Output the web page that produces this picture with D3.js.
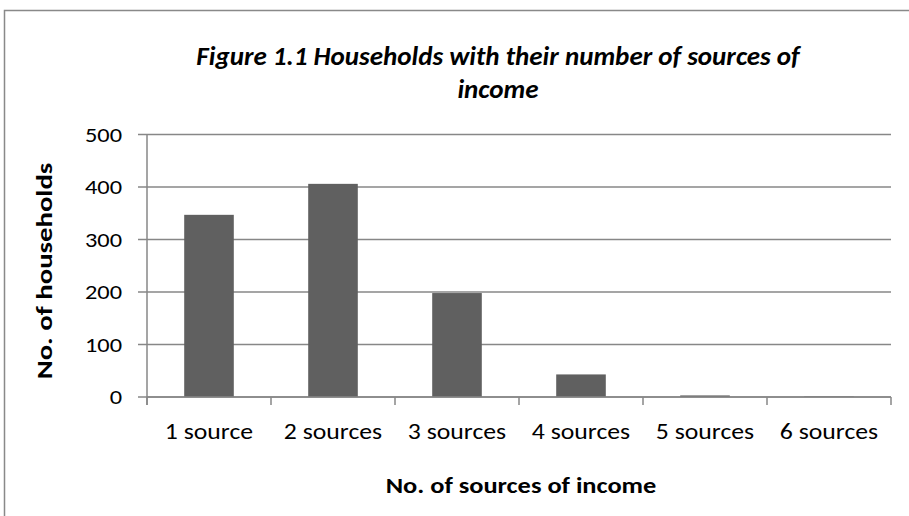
<!DOCTYPE html>
<html>
<head>
<meta charset="utf-8">
<script src="https://cdn.jsdelivr.net/npm/d3@7"></script>
<style>
  html, body { margin: 0; padding: 0; background: #fff; }
  svg { display: block; }
  text { font-family: Carlito, Calibri, Lato, "Open Sans", sans-serif; fill: #000; }
</style>
</head>
<body>
<svg id="chart" width="909" height="516"></svg>
<script>
// Households by number of income sources
const categories = ["1 source", "2 sources", "3 sources", "4 sources", "5 sources", "6 sources"];
const households = [347, 406, 198, 43, 3, 1];
const yTicks = [0, 100, 200, 300, 400, 500];
const titleLines = ["Figure 1.1 Households with their number of sources of", "income"];
const xTitle = "No. of sources of income";
const yTitle = "No. of households";

const svg = d3.select("#chart");
const W = 909, H = 516;
const plot = { left: 147, right: 891, top: 134.5, bottom: 397 };
const gridColor = "#878787";

// text helper: places a label and widens it horizontally by sx
function label(g, txt, xPos, yPos, opts) {
  const o = Object.assign({ size: 22, sx: 1, anchor: "middle", weight: "normal", style: "normal", rotate: 0 }, opts);
  return g.append("text")
    .attr("transform", `translate(${xPos},${yPos}) rotate(${o.rotate}) scale(${o.sx},1)`)
    .attr("text-anchor", o.anchor)
    .attr("font-size", o.size)
    .attr("font-weight", o.weight)
    .attr("font-style", o.style)
    .text(txt);
}

// outer chart frame (runs off the right and bottom edges)
svg.append("rect")
  .attr("x", 4.5).attr("y", 10.5)
  .attr("width", W + 20).attr("height", H + 20)
  .attr("fill", "#fff").attr("stroke", "#898989").attr("stroke-width", 1.5);

const xOuter = d3.scaleBand().domain(categories).range([plot.left, plot.right]);
const x = d3.scaleBand().domain(categories).range([plot.left, plot.right]).paddingInner(0.6).paddingOuter(0.3);
const y = d3.scaleLinear().domain([0, 500]).range([plot.bottom, plot.top]);

// horizontal gridlines with small ticks left of the axis
svg.append("g").selectAll("line").data(yTicks).join("line")
  .attr("x1", plot.left - 9).attr("x2", plot.right)
  .attr("y1", d => y(d)).attr("y2", d => y(d))
  .attr("stroke", gridColor).attr("stroke-width", 1.5);

// bars
svg.append("g").selectAll("rect").data(households).join("rect")
  .attr("x", (d, i) => x(categories[i]))
  .attr("width", x.bandwidth())
  .attr("y", d => y(d))
  .attr("height", d => y(0) - y(d))
  .attr("fill", "#606060");

// y axis line and labels
svg.append("line")
  .attr("x1", plot.left).attr("x2", plot.left)
  .attr("y1", plot.top).attr("y2", plot.bottom + 8)
  .attr("stroke", gridColor).attr("stroke-width", 1.5);
const gyl = svg.append("g");
yTicks.forEach(t => label(gyl, String(t), 122, y(t) + 7, { size: 20, sx: 1.22, anchor: "end" }));

// x axis: baseline redrawn on top of bars, ticks at category boundaries
const gx = svg.append("g");
gx.append("line").attr("x1", plot.left).attr("x2", plot.right)
  .attr("y1", plot.bottom).attr("y2", plot.bottom)
  .attr("stroke", gridColor).attr("stroke-width", 1.5);
const boundaries = categories.map(c => xOuter(c)).concat([plot.right]);
gx.selectAll("line.tk").data(boundaries).join("line").attr("class", "tk")
  .attr("x1", d => d).attr("x2", d => d)
  .attr("y1", plot.bottom).attr("y2", plot.bottom + 8)
  .attr("stroke", gridColor).attr("stroke-width", 1.5);
categories.forEach(c => label(gx, c, xOuter(c) + xOuter.bandwidth() / 2, 439, { size: 22, sx: 1.17 }));

// titles
const gt = svg.append("g");
titleLines.forEach((t, i) => label(gt, t, 498, 65 + i * 33, { size: 26, sx: 1.04, weight: "bold", style: "italic" }));
label(svg, xTitle, 521, 493, { size: 22, sx: 1.2, weight: "bold" });
label(svg, yTitle, 52, 271, { size: 23, sx: 1.25, weight: "bold", rotate: -90 });
</script>
</body>
</html>
